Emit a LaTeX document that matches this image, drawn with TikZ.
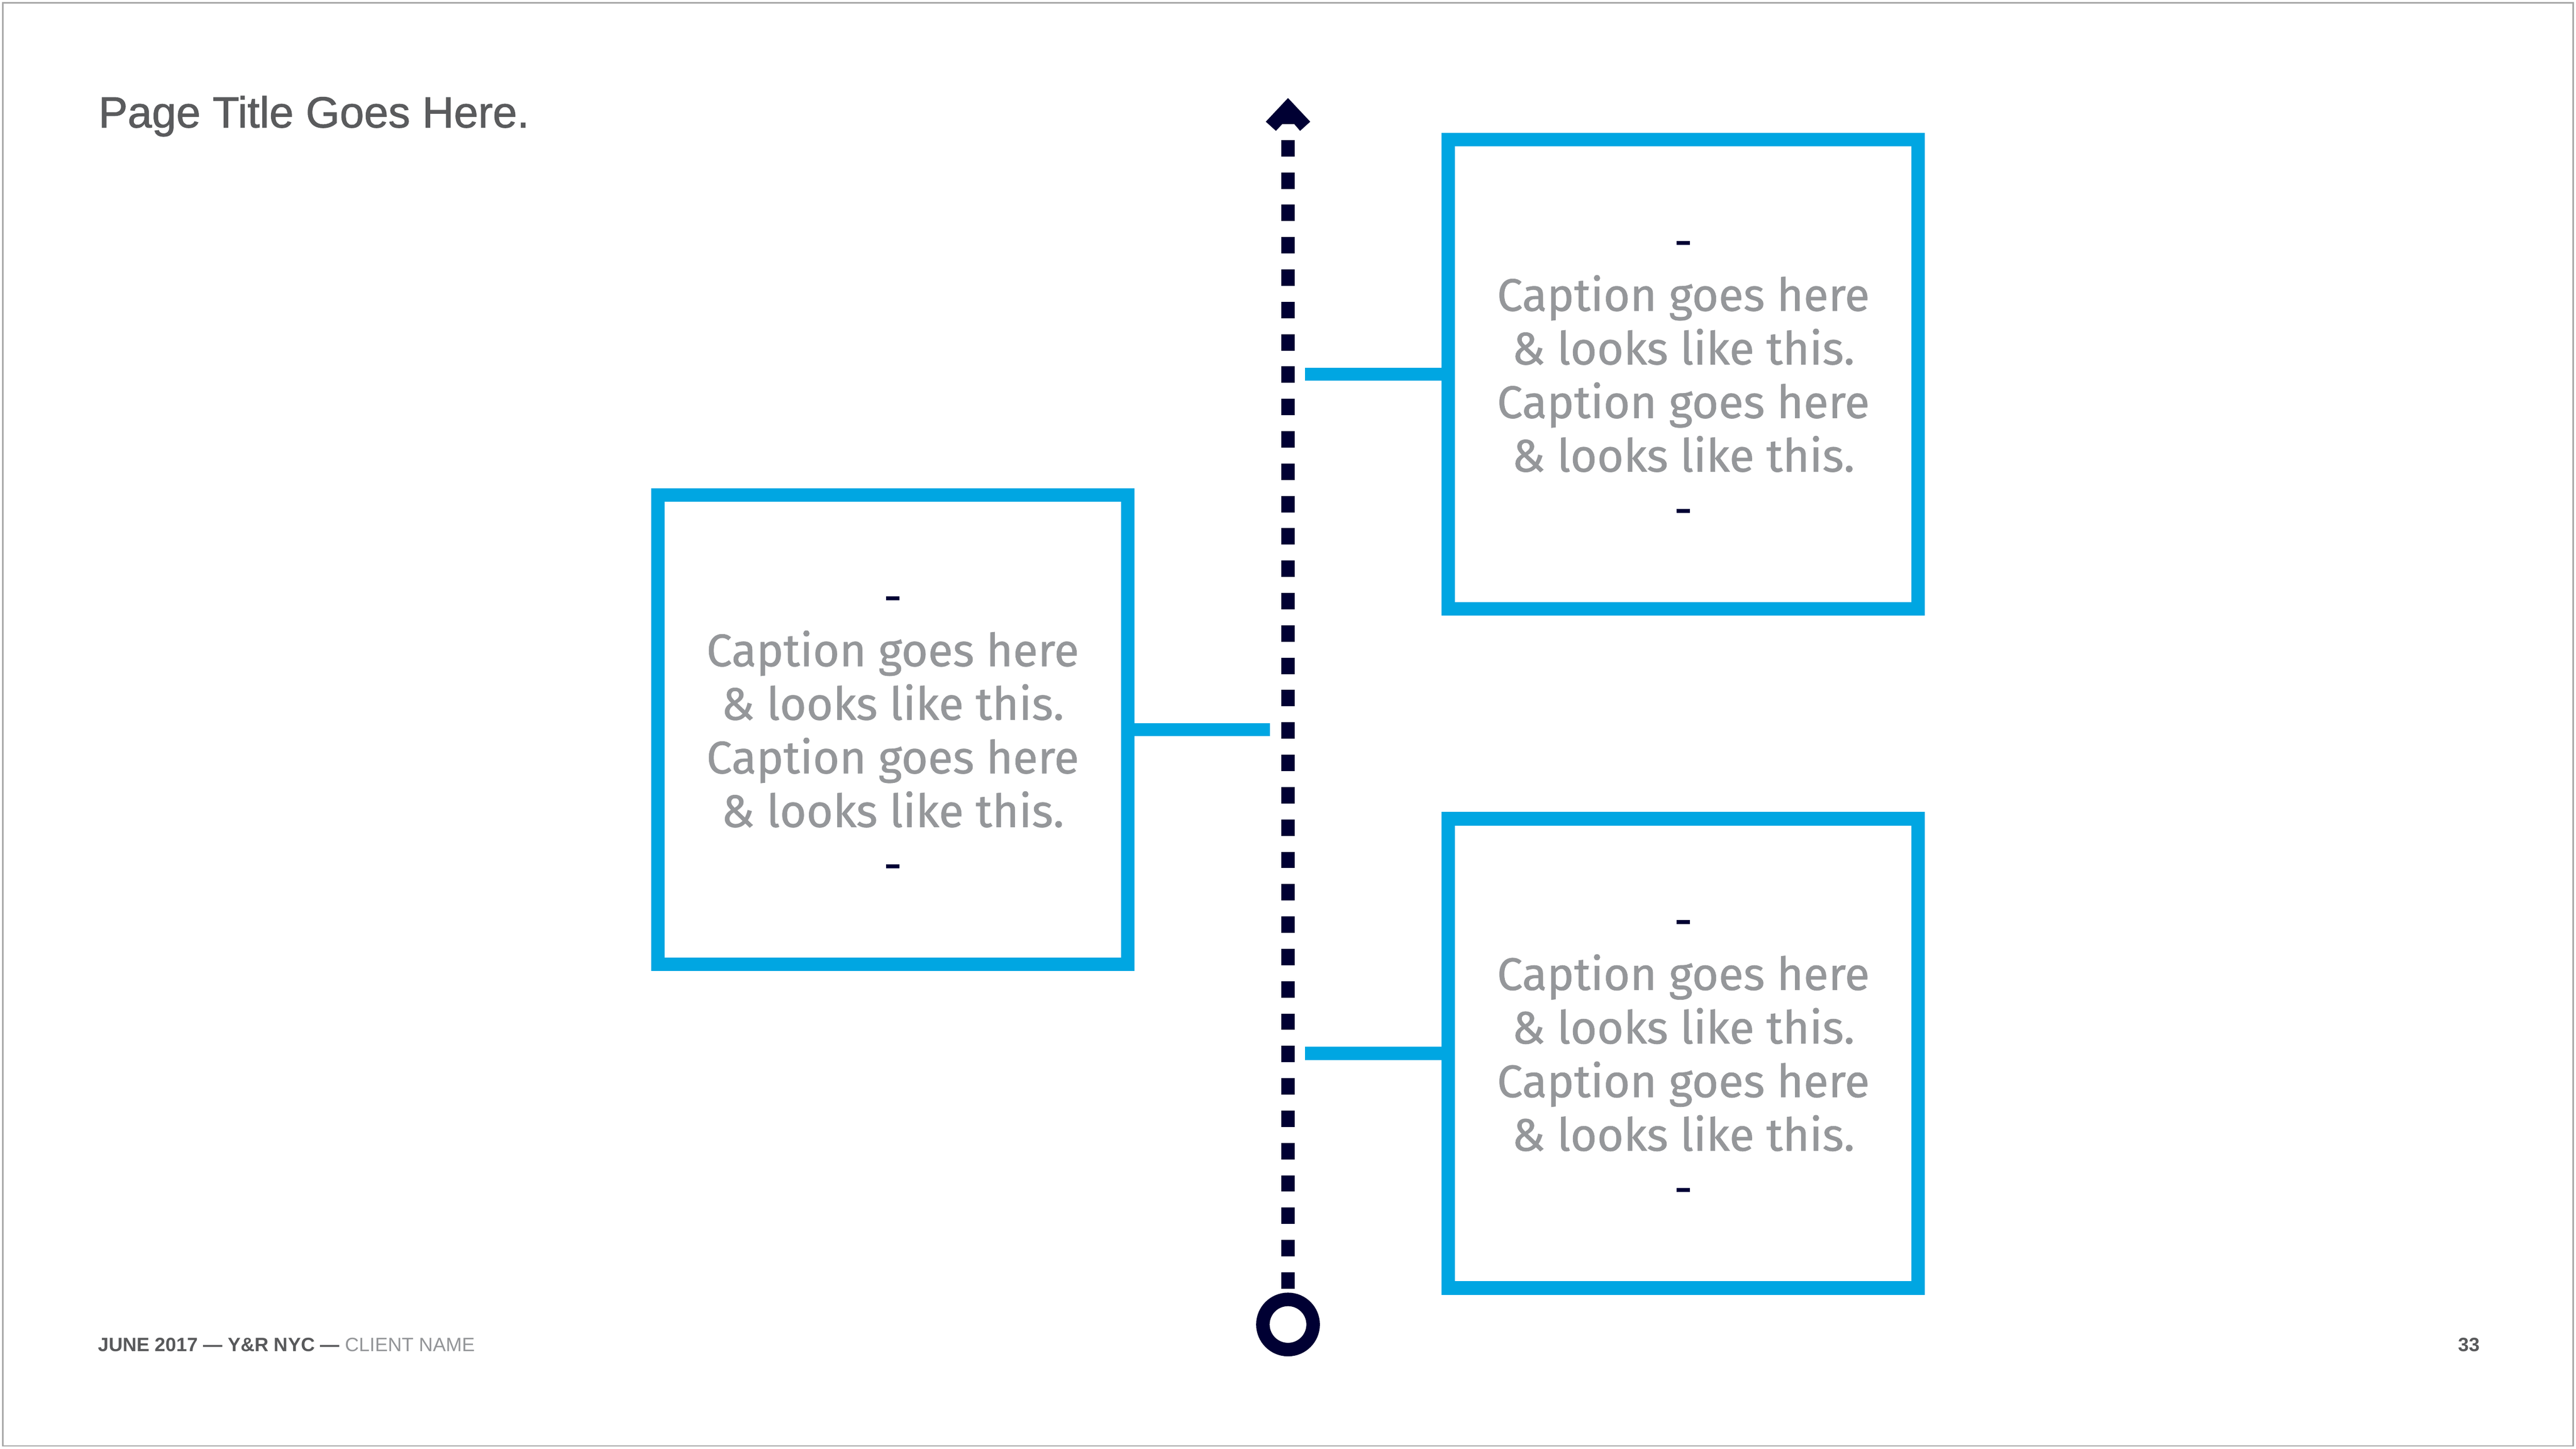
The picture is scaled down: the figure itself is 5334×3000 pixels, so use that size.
\documentclass[tikz,border=0pt]{standalone}
\usepackage{fontspec}
\setmainfont{Liberation Sans}
\newfontfamily\capfont[FakeBold=0.8]{Fira Sans}
\newfontfamily\titlefont[FakeBold=1.2]{Liberation Sans}
\definecolor{cyanbox}{HTML}{00A6E2}
\definecolor{navy}{HTML}{000033}
\definecolor{capgray}{HTML}{95979A}
\definecolor{titlegray}{HTML}{5A5B5D}
\definecolor{footdark}{HTML}{58595B}
\definecolor{footlight}{HTML}{939598}
\definecolor{framegray}{HTML}{A6A6A6}
\tikzset{
  x=0.1pt, y=-0.1pt,
  capbox/.style={draw=cyanbox, line width=2.8pt, inner sep=0pt, outer sep=0pt,
    minimum width=97.3pt, minimum height=97.2pt},
  captext/.style={align=center, inner sep=0pt, text=capgray,
    font=\capfont\fontsize{9.45}{11.1}\selectfont},
  link/.style={draw=cyanbox, line width=2.7pt},
  timeline/.style={draw=navy, line width=2.8pt, dash pattern=on 3.4pt off 3.3pt},
  footbold/.style={inner sep=0pt, font=\bfseries\fontsize{4}{5}\selectfont, text=footdark},
}
\newcommand{\capdash}{{\color{navy}-}}
\newcommand{\captionlines}{\capdash\\Caption goes here\\\& looks like this.\\Caption goes here\\\& looks like this.\\\capdash}
\begin{document}
\begin{tikzpicture}
\useasboundingbox (0,0) rectangle (5334,3000);
\fill[white] (0,0) rectangle (5334,3000);
\draw[framegray, line width=0.3pt] (5.5,5.5) rectangle (5328.5,2994.5);

% title
\node[anchor=base west, inner sep=0pt, text=titlegray, font=\titlefont\fontsize{9.05}{10.8}\selectfont] (title) at (202,264) {Page Title Goes Here.};

% footer
\node[footbold, anchor=base west] (foot) at (201,2799) {JUNE 2017 \textemdash{} Y\&R NYC \textemdash{} \textcolor{footlight}{\mdseries CLIENT NAME}};
\node[footbold, anchor=base west] (pagenum) at (5088,2799) {33};

% timeline
\coordinate (tl) at (2667,290);
\coordinate (bl) at (2667,2669);
\draw[timeline] (tl) -- (bl);
\fill[navy] (2667,203) -- (2713,252) -- (2692,271) -- (2680,257) -- (2655,257) -- (2642,271) -- (2621,252) -- cycle;
\node[circle, draw=navy, line width=2.8pt, inner sep=0pt, minimum size=10.4pt] (start) at (2667,2743) {};

% boxes
\node[capbox] (tr) at (3485.5,775) {};
\node[capbox] (lf) at (1848.5,1511) {};
\node[capbox] (br) at (3485.5,2181.5) {};

\node[captext] (trt) at ([yshift=-1.85pt]tr.center) {\captionlines};
\node[captext] (lft) at ([yshift=-1.85pt]lf.center) {\captionlines};
\node[captext] (brt) at ([yshift=-1.85pt]br.center) {\captionlines};

% connectors
\coordinate (c1) at (2702,775);
\coordinate (c2) at (2630,1511);
\coordinate (c3) at (2702,2181.5);
\draw[link] (c1) -- (tr.west);
\draw[link] (lf.east) -- (c2);
\draw[link] (c3) -- (br.west);
\end{tikzpicture}
\end{document}
